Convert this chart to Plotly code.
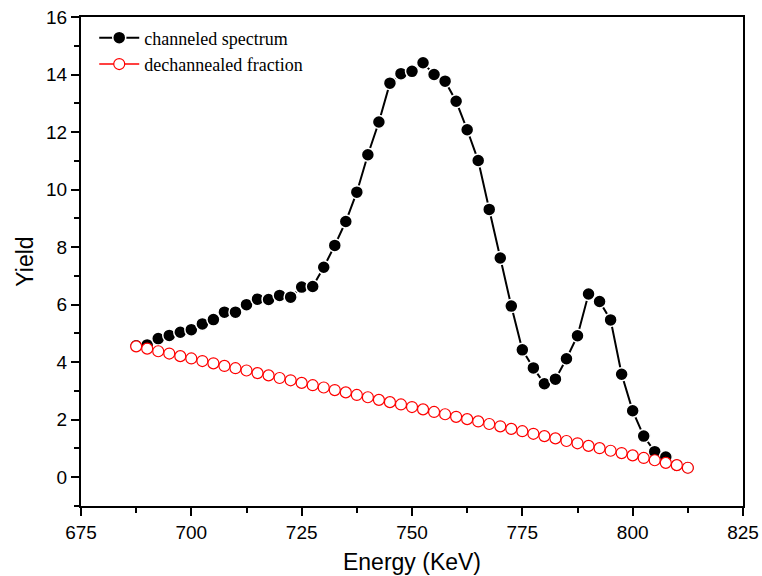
import plotly.graph_objects as go

energy = [687.5 + 2.5 * i for i in range(51)]

channeled = [4.57, 4.60, 4.82, 4.93, 5.04, 5.13, 5.33, 5.48, 5.74, 5.74,
             6.00, 6.19, 6.18, 6.32, 6.26, 6.61, 6.63, 7.30, 8.06, 8.89,
             9.91, 11.21, 12.35, 13.70, 14.03, 14.11, 14.41, 14.00, 13.77, 13.07,
             12.08, 11.01, 9.31, 7.62, 5.95, 4.43, 3.80, 3.25, 3.41, 4.12,
             4.92, 6.37, 6.11, 5.47, 3.58, 2.31, 1.43, 0.89, 0.70, 0.42,
             0.33]

dechanneled = [4.55, 4.47, 4.38, 4.30, 4.21, 4.13, 4.04, 3.96, 3.87, 3.79,
               3.71, 3.62, 3.54, 3.45, 3.37, 3.28, 3.20, 3.12, 3.03, 2.95,
               2.86, 2.78, 2.69, 2.61, 2.53, 2.44, 2.36, 2.27, 2.19, 2.10,
               2.02, 1.94, 1.85, 1.77, 1.68, 1.60, 1.51, 1.43, 1.35, 1.26,
               1.18, 1.09, 1.01, 0.92, 0.84, 0.76, 0.67, 0.59, 0.50, 0.42,
               0.33]

x_ticks = [675, 700, 725, 750, 775, 800, 825]
y_ticks = [0, 2, 4, 6, 8, 10, 12, 14, 16]

fig = go.Figure()
fig.add_trace(go.Scatter(
    x=energy, y=channeled, mode="lines+markers", name="channeled spectrum",
    line=dict(color="black", width=2),
    marker=dict(symbol="circle", size=13, color="black",
                line=dict(color="white", width=1.5)),
))
fig.add_trace(go.Scatter(
    x=energy, y=dechanneled, mode="lines+markers", name="dechannealed fraction",
    line=dict(color="red", width=1.5),
    marker=dict(symbol="circle", size=11, color="white",
                line=dict(color="red", width=1.2)),
))

sans = "Liberation Sans, Arial, sans-serif"
axis_font = dict(family=sans, size=19, color="black")
title_font = dict(family=sans, size=23, color="black")
fig.update_layout(
    width=762, height=576,
    margin=dict(l=81, r=19, t=17, b=70),
    plot_bgcolor="white", paper_bgcolor="white",
    showlegend=True,
    legend=dict(x=0.02, y=0.995, xanchor="left", yanchor="top",
                bgcolor="rgba(0,0,0,0)",
                font=dict(family="Liberation Serif, Times New Roman, serif", size=18, color="black"),
                itemwidth=40, tracegroupgap=0),
    xaxis=dict(
        range=[675, 825], tickvals=x_ticks, ticktext=[str(v) for v in x_ticks],
        showgrid=False, zeroline=False, automargin=False,
        showline=True, linecolor="black", linewidth=2, mirror=True,
        ticks="outside", ticklen=8, tickwidth=1.5, tickcolor="black",
        minor=dict(ticks="outside", ticklen=5, tickwidth=1.5, tickcolor="black", dtick=12.5, tick0=675),
        tickfont=axis_font,
        title=dict(text="Energy (KeV)", font=title_font, standoff=12),
    ),
    yaxis=dict(
        range=[-1, 16], tickvals=y_ticks, ticktext=[str(v) for v in y_ticks],
        showgrid=False, zeroline=False, automargin=False,
        showline=True, linecolor="black", linewidth=2, mirror=True,
        ticks="outside", ticklen=8, tickwidth=1.5, tickcolor="black",
        minor=dict(ticks="outside", ticklen=5, tickwidth=1.5, tickcolor="black", dtick=1, tick0=0),
        tickfont=axis_font,
        title=dict(text="Yield", font=title_font, standoff=6),
    ),
)

fig.write_html("out.html")
